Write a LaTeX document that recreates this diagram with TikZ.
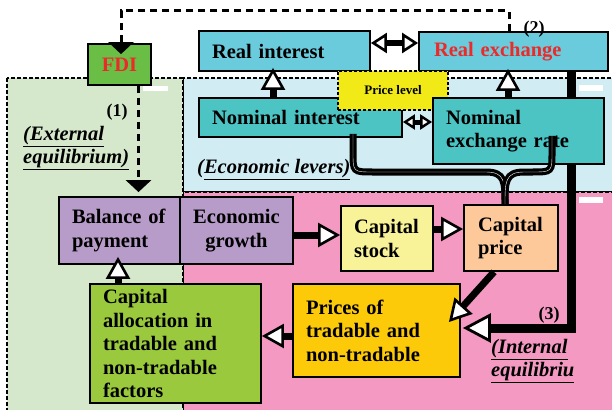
\documentclass[tikz,border=0pt]{standalone}
\usepackage{fontspec}
\setmainfont{Liberation Serif}
\usetikzlibrary{arrows.meta}
\definecolor{extgreen}{HTML}{D5E8CB}
\definecolor{levblue}{HTML}{D2ECF3}
\definecolor{intpink}{HTML}{F49AC2}
\definecolor{fdigreen}{HTML}{6ABD45}
\definecolor{fdired}{HTML}{EC2A2A}
\definecolor{realcyan}{HTML}{6ACBDC}
\definecolor{nomteal}{HTML}{4CC4C4}
\definecolor{priceyellow}{HTML}{F2EA16}
\definecolor{bopviolet}{HTML}{B79BC9}
\definecolor{stockyellow}{HTML}{F8F298}
\definecolor{pricepeach}{HTML}{FDC99A}
\definecolor{goldbox}{HTML}{FDCA0A}
\definecolor{allocgreen}{HTML}{9AC93E}

\begin{document}
\begin{tikzpicture}[x=1pt, y=-1pt,
	box/.style={draw, line width=1.8pt, align=left, inner ysep=2pt, font=\fontsize{20.5}{23.5}\selectfont\bfseries},
	hollow/.style={line width=7pt, -{Triangle[fill=white, line width=2.6pt, length=22pt, width=24pt]}},
	twoway/.style={line width=6pt, {Triangle[fill=white, line width=2.6pt, length=16pt, width=20pt]}-{Triangle[fill=white, line width=2.6pt, length=16pt, width=20pt]}},
	smallway/.style={line width=5pt, {Triangle[fill=white, line width=2.4pt, length=12pt, width=15pt]}-{Triangle[fill=white, line width=2.4pt, length=12pt, width=15pt]}},
	dashline/.style={line width=3pt, dash pattern=on 7pt off 5pt, -{Triangle[width=25pt, length=12pt]}},
	zone/.style={line width=2pt, dash pattern=on 4pt off 2pt},
	curvy/.style={line width=3.3pt, double=white, double distance=0.4pt},
	tag/.style={font=\fontsize{18}{20}\selectfont\bfseries},
	zonelbl/.style={anchor=west, align=left, inner sep=0pt, font=\fontsize{20.5}{23}\selectfont\bfseries\itshape}]
			%%%%% START %%%%%
			\useasboundingbox (0,0) rectangle (612,409);
			
			% zones
			\draw[zone, fill=levblue] (183,78) rectangle (616,192);
			\draw[zone, fill=intpink] (183,192) rectangle (616,413);
			\draw[zone, fill=extgreen] (7,78) rectangle (183,413);
			
			\fill[white] (143,86) rectangle (168,91);
			\fill[white] (579,85) rectangle (603,91);
			\fill[white] (579,197) rectangle (603,203);
			
			% boxes
			\node[box, fill=fdigreen, text=fdired, align=center, minimum width=63pt, minimum height=41pt] (fdi) at (119.5,64.5) {FDI};
			\node[box, fill=realcyan, text width=145pt, inner xsep=13pt, minimum height=40pt] (realint) at (284.5,51) {Real interest};
			\node[box, fill=realcyan, text=fdired, text width=159pt, inner xsep=15pt, minimum height=39pt] (realex) at (513.5,51.5) {Real exchange};
			\node[box, fill=nomteal, text width=177pt, inner xsep=13pt, minimum height=39pt] (nomint) at (300.5,117.5) {Nominal interest};
			\node[box, fill=priceyellow, dash pattern=on 3pt off 2pt, align=center, minimum width=110pt, minimum height=39pt, font=\fontsize{13}{15}\selectfont\bfseries] (plevel) at (393,90.5) {Price level};
			
			\node[box, fill=bopviolet, text width=103pt, inner xsep=9pt, minimum height=67pt] (bop) at (119.5,230.5) {\hspace*{4pt}Balance of\\\hspace*{4pt}payment};
			\node[box, fill=bopviolet, align=center, minimum width=113pt, minimum height=67pt] (growth) at (236.5,230.5) {Economic\\growth};
			\node[box, fill=stockyellow, text width=68pt, inner xsep=12pt, minimum height=65pt] (capstock) at (387,238.5) {\hspace*{1pt}Capital\\\hspace*{1pt}stock};
			\node[box, fill=pricepeach, text width=68pt, inner xsep=13pt, minimum height=66pt] (capprice) at (511,238) {\hspace*{1pt}Capital\\\hspace*{1pt}price};
			\node[box, fill=goldbox, text width=141pt, inner xsep=13pt, minimum height=93pt] (prices) at (376.5,330.5) {Prices of\\tradable and\\non-tradable};
			\node[box, fill=allocgreen, text width=145pt, inner xsep=13pt, minimum height=119pt] (alloc) at (175.5,343.5) {Capital\\allocation in\\tradable and\\non-tradable\\factors};
			
			% thick line behind the nominal exchange box
			\coordinate (turn) at (571,328);
			\draw[line width=9pt, -{Triangle[fill=white, line width=2.8pt, length=28pt, width=29pt]}] (realex.south -| turn) -- (turn) -- ([xshift=2pt]turn -| prices.east);
			
			\node[box, fill=nomteal, text width=145pt, inner xsep=13pt, minimum height=66pt] (nomex) at (518.5,131) {Nominal\\exchange rate};
			
			% arrows
			\draw[hollow] ([xshift=-27.5pt]nomint.north) -- ([xshift=-11.5pt, yshift=4pt]realint.south);
			\draw[hollow] ([xshift=-10.5pt]nomex.north) -- ([xshift=-5.5pt, yshift=3pt]realex.south);
			\draw[twoway] ([yshift=8pt]realint.east) -- ([yshift=8.5pt]realex.west);
			\draw[smallway] ([yshift=-4.5pt]nomint.east) -- ([yshift=9pt]nomex.west);
			
			\draw[hollow] ([yshift=-4.5pt]growth.east) -- ([yshift=3.5pt]capstock.west);
			\draw[hollow] ([yshift=9.5pt]capstock.east) -- ([yshift=9pt]capprice.west);
			\draw[hollow] ([xshift=-17pt]capprice.south) -- ([xshift=-12pt, yshift=8.5pt]prices.east);
			\draw[hollow] ([yshift=-5.5pt]prices.west) -- ([yshift=7.5pt]alloc.east);
			\draw[hollow] ([xshift=-57.5pt]alloc.north) -- ([xshift=-1.5pt, yshift=8pt]bop.south);
			
			% FDI links
			\coordinate (topleft) at (121,11);
			\draw[dashline] ([xshift=-4.5pt]realex.north) |- (topleft) -- ([xshift=1.5pt, yshift=-11pt]fdi.north);
			\draw[dashline] ([xshift=19pt]fdi.south) -- ([xshift=19pt, yshift=4pt]bop.north);
			
			% brace into capital price
			\draw[curvy] ([xshift=52.5pt, yshift=4pt]nomint.south) -- (353,152) .. controls (353,172) .. (373,172) -- (486,172) .. controls (505,172) and (505,182) .. ([xshift=-6pt]capprice.north);
			\draw[curvy] ([xshift=33.5pt, yshift=29pt]nomex.south) -- (552,152) .. controls (552,172) .. (532,172) -- (524,172) .. controls (505,172) and (505,182) .. ([xshift=-6pt]capprice.north);
			
			% labels
			\node[tag] (n1) at (117,112) {(1)};
			\node[tag] (n2) at (534,29) {(2)};
			\node[tag] (n3) at (549,315) {(3)};
			\node[zonelbl] (extlbl) at (23,148.5) {\underline{(External}\\\underline{equilibrium)}};
			\node[zonelbl] (levlbl) at (197,170) {(\underline{Economic levers)}};
			\node[zonelbl] (intlbl) at (491,361) {\underline{(Internal}\\\underline{equilibriu}};
			
			%%%%% END %%%%%
\end{tikzpicture}
\end{document}
